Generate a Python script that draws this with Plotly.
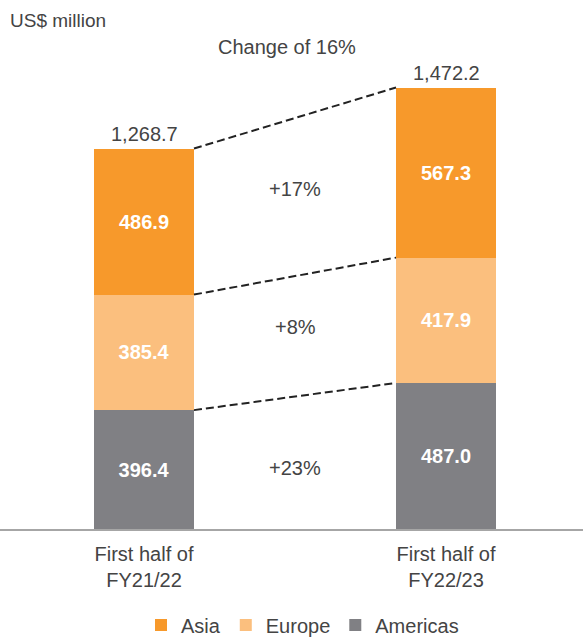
import plotly.graph_objects as go

periods = ["First half of<br>FY21/22", "First half of<br>FY22/23"]
regions = ["Americas", "Europe", "Asia"]
americas = [396.4, 487.0]
europe = [385.4, 417.9]
asia = [486.9, 567.3]
totals = [1268.7, 1472.2]
total_labels = ["1,268.7", "1,472.2"]
change_labels = ["+23%", "+8%", "+17%"]
total_change_label = "Change of 16%"
unit_label = "US$ million"

colors = {"Asia": "#F7992B", "Europe": "#FBBF7E", "Americas": "#808084"}
series = {"Americas": americas, "Europe": europe, "Asia": asia}

xs = [0, 1]
bw = 0.331
FONT = "Liberation Sans, Arial, sans-serif"
TXT = "#444444"

fig = go.Figure()
for name in regions:
    vals = series[name]
    fig.add_trace(go.Bar(
        x=xs, y=vals, name=name, width=bw,
        marker=dict(color=colors[name], line=dict(width=0)),
        text=[f"{v:.1f}" for v in vals], textposition="inside",
        insidetextanchor="middle", constraintext="none",
        textfont=dict(color="white", size=20, family=FONT, weight="bold"),
        hoverinfo="skip",
    ))

cum0 = [americas[0], americas[0] + europe[0], americas[0] + europe[0] + asia[0]]
cum1 = [americas[1], americas[1] + europe[1], americas[1] + europe[1] + asia[1]]

for a, b in zip(cum0, cum1):
    fig.add_shape(type="line", xref="x", yref="y",
                  x0=xs[0] + bw / 2, y0=a, x1=xs[1] - bw / 2, y1=b,
                  line=dict(color="#222222", width=2, dash="8px,4px"))

lows0 = [0] + cum0[:-1]
lows1 = [0] + cum1[:-1]
shifts = [-5, 9, 8]
for i, lab in enumerate(change_labels):
    mid = ((lows0[i] + lows1[i]) / 2 + (cum0[i] + cum1[i]) / 2) / 2
    fig.add_annotation(x=0.5, y=mid, xref="x", yref="y", text=lab, showarrow=False,
                       yshift=shifts[i], font=dict(size=20, color=TXT, family=FONT))

for x, t, lab in zip(xs, totals, total_labels):
    fig.add_annotation(x=x, y=t, xref="x", yref="y", text=lab, showarrow=False,
                       yanchor="bottom", yshift=2, font=dict(size=20, color=TXT, family=FONT))

fig.add_annotation(x=287 / 583, y=1 - 47 / 529, xref="paper", yref="paper", text=total_change_label,
                   showarrow=False, yanchor="middle", font=dict(size=20, color=TXT, family=FONT))
fig.add_annotation(x=8 / 583, y=1 - 20 / 529, xref="paper", yref="paper", text=unit_label,
                   xanchor="left", yanchor="middle", showarrow=False,
                   font=dict(size=19, color=TXT, family=FONT))

fig.update_layout(
    width=583, height=639,
    margin=dict(l=0, r=0, t=0, b=110),
    barmode="stack",
    plot_bgcolor="white", paper_bgcolor="white",
    font=dict(family=FONT, color=TXT),
    showlegend=True,
    legend=dict(orientation="h", x=141 / 583, xanchor="left",
                y=1 - 625 / 639, yref="container", yanchor="middle",
                traceorder="reversed", font=dict(size=20, color=TXT),
                itemwidth=30, tracegroupgap=0),
    xaxis=dict(range=[-144 / 302, 439 / 302], tickvals=xs, ticktext=periods,
               showline=True, linecolor="#A6A6A6", linewidth=2, showgrid=False,
               zeroline=False, ticks="", tickfont=dict(size=20, color=TXT),
               ticklabelstandoff=6, fixedrange=True, automargin=False),
    yaxis=dict(range=[0, 1764], visible=False, fixedrange=True),
)

fig.write_html("out.html", config={"displayModeBar": False},
               post_script="document.body.style.margin='0';")
